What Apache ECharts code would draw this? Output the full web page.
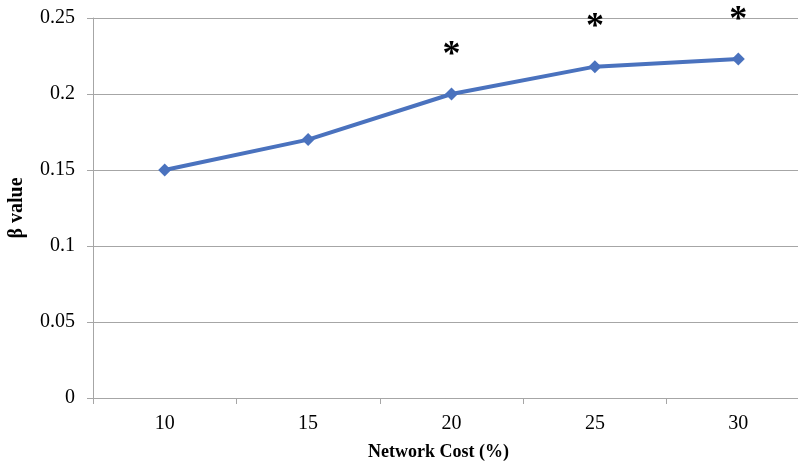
<!DOCTYPE html>
<html>
<head>
<meta charset="utf-8">
<script src="https://cdn.jsdelivr.net/npm/echarts@6/dist/echarts.min.js"></script>
<style>html,body{margin:0;padding:0;background:#fff;}#c{width:798px;height:465px;}</style>
</head>
<body>
<div id="c"></div>
<script>
var categories = ['10', '15', '20', '25', '30'];
var betaValues = [0.15, 0.17, 0.2, 0.218, 0.223];
var significance = ['', '', '*', '*', '*'];
var yTicks = [0, 0.05, 0.1, 0.15, 0.2, 0.25];

var chart = echarts.init(document.getElementById('c'), null, {renderer: 'canvas'});
var serif = '"Liberation Serif", "Times New Roman", serif';
chart.setOption({
  animation: false,
  grid: {left: 93, right: -12, top: 18, bottom: 67, containLabel: false, outerBoundsMode: 'none'},
  xAxis: {
    type: 'category',
    data: categories,
    boundaryGap: true,
    axisLine: {lineStyle: {color: '#A6A6A6', width: 1}},
    axisTick: {show: true, length: 6, lineStyle: {color: '#A6A6A6'}},
    axisLabel: {color: '#000', fontFamily: serif, fontSize: 20, margin: 16},
    name: 'Network Cost (%)',
    nameLocation: 'middle',
    nameGap: 45,
    nameTextStyle: {color: '#000', fontFamily: serif, fontSize: 18, fontWeight: 'bold', padding: [0, 26, 0, 0]}
  },
  yAxis: {
    type: 'value',
    min: 0, max: 0.25, interval: 0.05,
    axisLine: {show: true, lineStyle: {color: '#A6A6A6', width: 1}},
    axisTick: {show: true, length: 6, lineStyle: {color: '#A6A6A6'}},
    splitLine: {show: true, lineStyle: {color: '#A6A6A6', width: 1}},
    axisLabel: {
      color: '#000', fontFamily: serif, fontSize: 20, margin: 18,
      formatter: function (v) {
        var t = yTicks.filter(function (x) { return Math.abs(x - v) < 1e-9; })[0];
        return String(t !== undefined ? t : v);
      }
    },
    name: 'β value',
    nameLocation: 'middle',
    nameGap: 66,
    nameRotate: 90,
    nameTextStyle: {color: '#000', fontFamily: serif, fontSize: 20, fontWeight: 'bold'}
  },
  series: [{
    type: 'line',
    data: betaValues,
    symbol: 'diamond',
    symbolSize: 13,
    lineStyle: {color: '#4A72BE', width: 4},
    itemStyle: {color: '#4A72BE'},
    label: {
      show: true,
      position: 'top',
      distance: 14,
      color: '#000',
      fontFamily: serif,
      fontSize: 36,
      fontWeight: 'bold',
      formatter: function (p) { return significance[p.dataIndex]; }
    }
  }]
});
</script>
</body>
</html>
